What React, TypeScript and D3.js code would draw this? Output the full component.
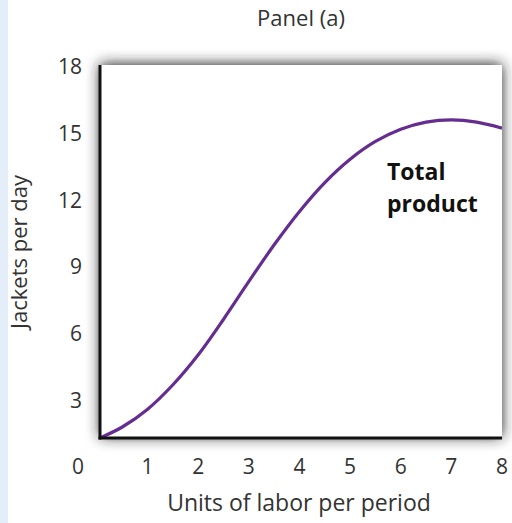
import React from "react";
import * as d3 from "d3";

const xTicks = [1, 2, 3, 4, 5, 6, 7, 8];
const yTicks = [3, 6, 9, 12, 15, 18];
const labor = [0.06, 0.5, 1, 1.5, 2, 2.5, 3, 3.5, 4, 4.5, 5, 5.5, 6, 6.5, 7, 7.5, 8];
const totalProduct = [1.31, 1.8, 2.6, 3.7, 5.05, 6.65, 8.35, 10.0, 11.5, 12.8, 13.85, 14.65, 15.2, 15.52, 15.62, 15.52, 15.25];

const W = 512;
const H = 523;
const box = { left: 100, right: 502, top: 65, bottom: 438 };

export default function App() {
  const x = d3.scaleLinear().domain([0, 8]).range([97, 502]);
  const y = d3.scaleLinear().domain([0, 18]).range([467, 67]);
  const pts: [number, number][] = labor.map((l, i) => [x(l), y(totalProduct[i])]);
  const line = d3.line().curve(d3.curveCatmullRom.alpha(0.5))(pts) || "";
  const font = "'Open Sans', 'Noto Sans', sans-serif";
  return (
    <svg
      width={W}
      height={H}
      style={{ position: "absolute", left: 0, top: 0, background: "#fff" }}
      fontFamily={font}
    >
      <defs>
        <filter id="sh" x="-15%" y="-15%" width="130%" height="130%">
          <feDropShadow dx="0" dy="-1" stdDeviation="7" floodColor="#222" floodOpacity="1" />
        </filter>
        <clipPath id="clip">
          <rect x={box.left} y={box.top} width={box.right - box.left} height={box.bottom - box.top} />
        </clipPath>
      </defs>
      <rect x={0} y={0} width={W} height={H} fill="#fff" />
      <rect
        x={box.left}
        y={box.top}
        width={box.right - box.left}
        height={box.bottom - box.top}
        fill="#fff"
        filter="url(#sh)"
      />
      <rect x={0} y={0} width={8} height={H} fill="#e3eef8" />
      <text x={301} y={26} textAnchor="middle" fontSize={22} fill="#333">Panel (a)</text>
      {yTicks.map((t) => (
        <text key={t} x={82} y={y(t)} dy="0.35em" textAnchor="end" fontSize={21} fill="#333">
          {t}
        </text>
      ))}
      <text x={78} y={467} dy="0.35em" textAnchor="middle" fontSize={21} fill="#333">0</text>
      {xTicks.map((t) => (
        <text key={t} x={x(t)} y={467} dy="0.35em" textAnchor="middle" fontSize={21} fill="#333">
          {t}
        </text>
      ))}
      <text x={299} y={511} textAnchor="middle" fontSize={23} fill="#333">Units of labor per period</text>
      <text
        transform={`translate(27,252) rotate(-90)`}
        textAnchor="middle"
        fontSize={22}
        fill="#333"
      >
        Jackets per day
      </text>
      <path d={line} fill="none" stroke="#652d90" strokeWidth={3.2} clipPath="url(#clip)" />
      <line x1={box.left} x2={box.left} y1={box.top} y2={box.bottom + 1.5} stroke="#111" strokeWidth={3} />
      <line x1={box.left - 1.5} x2={box.right} y1={box.bottom} y2={box.bottom} stroke="#111" strokeWidth={3} />
      <text x={387} y={180} fontSize={23} fontWeight="bold" fill="#111">Total</text>
      <text x={387} y={212} fontSize={23} fontWeight="bold" fill="#111">product</text>
    </svg>
  );
}
